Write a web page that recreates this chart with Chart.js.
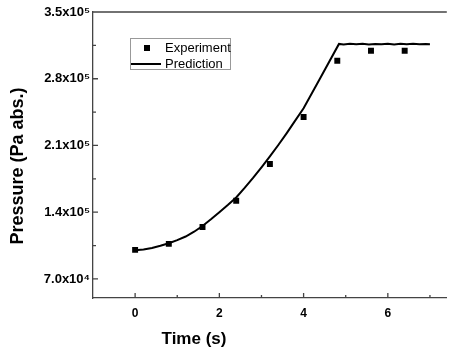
<!DOCTYPE html>
<html>
<head>
<meta charset="utf-8">
<script src="https://cdn.jsdelivr.net/npm/chart.js@4.4.1/dist/chart.umd.min.js"></script>
<style>
  html, body { margin: 0; padding: 0; background: #fff; }
  #wrap { width: 451px; height: 351px; }
</style>
</head>
<body>
<div id="wrap"><canvas id="chart" width="451" height="351"></canvas></div>
<script>
// Experiment (squares)
const timeExp = [0, 0.8, 1.6, 2.4, 3.2, 4.0, 4.8, 5.6, 6.4];
const pressureExp = [100500, 106800, 124400, 152000, 190500, 239800, 298900, 309400, 309400];

// Prediction (solid line)
const timePred = [0, 0.2, 0.4, 0.6, 0.8, 1.0, 1.2, 1.4, 1.6, 1.8, 2.0, 2.2, 2.4, 2.6, 2.8, 3.0, 3.2, 3.4, 3.6, 3.8, 4.0, 4.4, 4.84,
    4.95, 5.1, 5.25, 5.4, 5.55, 5.7, 5.85, 6.0, 6.15, 6.3, 6.45, 6.6, 6.75, 6.9, 7.0];
const pressurePred = [100000, 100800, 102500, 104800, 107500, 110700, 114500, 119500, 125500, 132500, 140000, 147500, 155500, 165500, 176000, 187000, 198500, 210500, 223000, 236000, 249000, 281000, 316500,
    316000, 316700, 316100, 316600, 315900, 316500, 316200, 316800, 316000, 316600, 316100, 316700, 316200, 316500, 316300];

// Axis ticks
const xTicks = [0, 2, 4, 6];
const xMinorTicks = [1, 3, 5, 7];
const yTicks = [70000, 140000, 210000, 280000, 350000];
const yTickLabels = ['7.0x10\u2074', '1.4x10\u2075', '2.1x10\u2075', '2.8x10\u2075', '3.5x10\u2075'];
const yMinorTicks = [105000, 175000, 245000, 315000];

const FONT = "'Liberation Sans', Arial, sans-serif";
const AXIS_COLOR = '#444';

// inward tick marks, top border, legend box and axis titles
const decorPlugin = {
    id: 'decor',
    afterDraw(chart) {
        const ctx = chart.ctx;
        const area = chart.chartArea;
        const xs = chart.scales.x;
        const ys = chart.scales.y;
        ctx.save();
        ctx.strokeStyle = AXIS_COLOR;
        ctx.lineWidth = 1.3;
        ctx.beginPath();
        ctx.moveTo(area.left, area.top);
        ctx.lineTo(area.right, area.top);
        xTicks.forEach(v => {
            const px = xs.getPixelForValue(v);
            ctx.moveTo(px, area.bottom); ctx.lineTo(px, area.bottom - 5);
        });
        xMinorTicks.forEach(v => {
            const px = xs.getPixelForValue(v);
            ctx.moveTo(px, area.bottom); ctx.lineTo(px, area.bottom - 3);
        });
        yTicks.forEach(v => {
            const py = ys.getPixelForValue(v);
            ctx.moveTo(area.left, py); ctx.lineTo(area.left + 5, py);
        });
        yMinorTicks.forEach(v => {
            const py = ys.getPixelForValue(v);
            ctx.moveTo(area.left, py); ctx.lineTo(area.left + 3, py);
        });
        ctx.stroke();

        // legend
        ctx.strokeStyle = '#999';
        ctx.lineWidth = 1;
        ctx.strokeRect(130.5, 38.5, 100, 31);
        ctx.fillStyle = '#000';
        ctx.fillRect(144, 45, 6, 6);
        ctx.strokeStyle = '#000';
        ctx.lineWidth = 2;
        ctx.beginPath();
        ctx.moveTo(131, 64); ctx.lineTo(161, 64);
        ctx.stroke();
        ctx.font = '13px ' + FONT;
        ctx.textBaseline = 'middle';
        ctx.textAlign = 'left';
        ctx.fillText('Experiment', 165, 48);
        ctx.fillText('Prediction', 165, 64);

        // axis titles
        ctx.font = 'bold 17px ' + FONT;
        ctx.textAlign = 'center';
        ctx.fillText('Time (s)', 194, 339);
        ctx.translate(18, 166);
        ctx.rotate(-Math.PI / 2);
        ctx.font = 'bold 18px ' + FONT;
        ctx.fillText('Pressure (Pa abs.)', 0, 0);
        ctx.restore();
    }
};

new Chart(document.getElementById('chart'), {
    type: 'scatter',
    data: {
        datasets: [{
            label: 'Experiment',
            data: timeExp.map((t, i) => ({ x: t, y: pressureExp[i] })),
            pointStyle: 'rect',
            pointRadius: 4.2,
            backgroundColor: '#000',
            borderColor: '#000',
            borderWidth: 0,
            showLine: false
        }, {
            label: 'Prediction',
            data: timePred.map((t, i) => ({ x: t, y: pressurePred[i] })),
            showLine: true,
            pointRadius: 0,
            borderColor: '#000',
            borderWidth: 2,
            tension: 0
        }]
    },
    options: {
        responsive: false,
        animation: false,
        layout: { padding: { top: 12, right: 0, left: 0, bottom: 0 } },
        plugins: {
            legend: { display: false },
            tooltip: { enabled: false }
        },
        scales: {
            x: {
                type: 'linear',
                min: -1,
                max: 7.4,
                grid: { display: false, drawTicks: false },
                border: { display: true, color: AXIS_COLOR, width: 1.3 },
                afterBuildTicks: s => { s.ticks = xTicks.map(v => ({ value: v })); },
                afterFit: s => { s.height = 53; },
                ticks: {
                    padding: 8,
                    color: '#000',
                    font: { family: FONT, size: 12, weight: 'bold' }
                }
            },
            y: {
                type: 'linear',
                min: 50000,
                max: 350000,
                grid: { display: false, drawTicks: false },
                border: { display: true, color: AXIS_COLOR, width: 1.3 },
                afterBuildTicks: s => { s.ticks = yTicks.map(v => ({ value: v })); },
                afterFit: s => { s.width = 93; },
                ticks: {
                    padding: 3,
                    color: '#000',
                    font: { family: FONT, size: 13, weight: 'bold' },
                    callback: (v, i) => yTickLabels[i]
                }
            }
        }
    },
    plugins: [decorPlugin]
});
</script>
</body>
</html>
